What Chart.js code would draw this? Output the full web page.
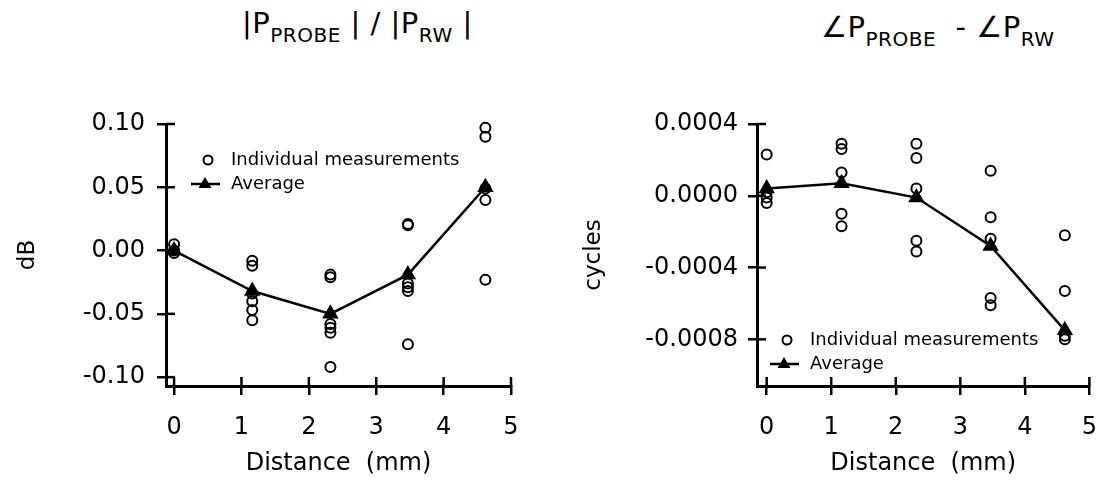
<!DOCTYPE html>
<html>
<head>
<meta charset="utf-8">
<script src="https://cdn.jsdelivr.net/npm/chart.js@4/dist/chart.umd.min.js"></script>
<style>
  html, body { margin: 0; padding: 0; background: #fff; }
  #wrap { position: relative; width: 1115px; height: 485px; overflow: hidden; }
  .box { position: absolute; top: 0; height: 485px; }
  .ttl { position: absolute; font-family: 'DejaVu Sans', sans-serif; font-size: 29px; line-height: 1; color: #000; white-space: pre; letter-spacing: 0.5px; }
  .ttl sub { font-size: 20px; vertical-align: -9px; line-height: 0; }
</style>
</head>
<body>
<div id="wrap">
  <div class="ttl" style="left:242px; top:9px;">|P<sub>PROBE</sub> | / |P<sub>RW</sub> |</div>
  <div class="ttl" style="left:821px; top:13px;">∠P<sub>PROBE</sub>  - ∠P<sub>RW</sub></div>
  <div class="box" style="left:0; width:557px;"><canvas id="chartMag"></canvas></div>
  <div class="box" style="left:557px; width:558px;"><canvas id="chartPhase"></canvas></div>
</div>
<script>
// distances (mm)
var distances = [0, 1.16, 2.32, 3.47, 4.62];
var xTicks = [0, 1, 2, 3, 4, 5];

// |P_PROBE| / |P_RW| (dB)
var magIndividual = [
  [0.005, 0.0, -0.002],
  [-0.008, -0.012, -0.034, -0.040, -0.047, -0.055],
  [-0.019, -0.021, -0.058, -0.061, -0.065, -0.092],
  [0.020, 0.021, -0.026, -0.029, -0.032, -0.074],
  [0.097, 0.090, 0.049, 0.040, -0.023]
];
var magAverage = [0.0, -0.032, -0.050, -0.019, 0.050];
var magTicks = [-0.10, -0.05, 0.0, 0.05, 0.10];

// angle P_PROBE - angle P_RW (cycles)
var phaseIndividual = [
  [0.00023, 0.00002, -0.00001, -0.00004],
  [0.00029, 0.00026, 0.00013, -0.00010, -0.00017],
  [0.00029, 0.00021, 0.00004, -0.00025, -0.00031],
  [0.00014, -0.00012, -0.00024, -0.00057, -0.00061],
  [-0.00022, -0.00053, -0.00078, -0.00080]
];
var phaseAverage = [0.00004, 0.00007, -0.00001, -0.00028, -0.00075];
var phaseTicks = [-0.0008, -0.0004, 0.0, 0.0004];

var legendLabels = ['Individual measurements', 'Average'];

Chart.defaults.font.family = "'DejaVu Sans', sans-serif";
Chart.defaults.color = '#000';

// tick marks crossing the axes + legend inside the plot
var axisExtras = {
  id: 'axisExtras',
  afterDraw: function (chart, args, opts) {
    var ctx = chart.ctx;
    var a = chart.chartArea;
    ctx.save();
    ctx.strokeStyle = '#000';
    ctx.lineWidth = 2.5;
    chart.scales.y.ticks.forEach(function (t) {
      var py = chart.scales.y.getPixelForValue(t.value);
      ctx.beginPath();
      ctx.moveTo(a.left, py);
      ctx.lineTo(a.left + 9, py);
      ctx.stroke();
    });
    chart.scales.x.ticks.forEach(function (t) {
      var px = chart.scales.x.getPixelForValue(t.value);
      ctx.beginPath();
      ctx.moveTo(px, a.bottom);
      ctx.lineTo(px, a.bottom - 9);
      ctx.stroke();
    });

    // legend
    var lx = a.left + opts.x;
    var ly = opts.fromBottom ? a.bottom - opts.y : a.top + opts.y;
    ctx.lineWidth = 2;
    ctx.beginPath();
    ctx.arc(lx, ly, 4.5, 0, Math.PI * 2);
    ctx.stroke();
    ctx.fillStyle = '#000';
    ctx.font = "18px 'DejaVu Sans', sans-serif";
    ctx.textBaseline = 'middle';
    ctx.fillText(legendLabels[0], lx + 23, ly);
    var ly2 = ly + 24;
    ctx.lineWidth = 2.5;
    ctx.beginPath();
    ctx.moveTo(lx - 17, ly2);
    ctx.lineTo(lx + 12, ly2);
    ctx.stroke();
    ctx.beginPath();
    ctx.moveTo(lx - 3, ly2 - 7);
    ctx.lineTo(lx + 3.5, ly2 + 4);
    ctx.lineTo(lx - 9.5, ly2 + 4);
    ctx.closePath();
    ctx.fill();
    ctx.fillText(legendLabels[1], lx + 23, ly2);
    ctx.restore();
  }
};

function buildPoints(xs, groups) {
  var pts = [];
  for (var i = 0; i < xs.length; i++) {
    for (var j = 0; j < groups[i].length; j++) {
      pts.push({ x: xs[i], y: groups[i][j] });
    }
  }
  return pts;
}

function buildLine(xs, ys) {
  var pts = [];
  for (var i = 0; i < xs.length; i++) {
    pts.push({ x: xs[i], y: ys[i] });
  }
  return pts;
}

function makeChart(id, o) {
  var ctx = document.getElementById(id);
  return new Chart(ctx, {
    type: 'scatter',
    data: {
      datasets: [
        {
          label: legendLabels[1],
          data: buildLine(distances, o.average),
          showLine: true,
          borderColor: '#000',
          backgroundColor: '#000',
          borderWidth: 2.5,
          pointStyle: 'triangle',
          pointRadius: 7,
          pointHoverRadius: 7,
          tension: 0,
          clip: false,
        },
        {
          label: legendLabels[0],
          data: buildPoints(distances, o.individual),
          borderColor: '#000',
          backgroundColor: 'rgba(0,0,0,0)',
          borderWidth: 2,
          pointStyle: 'circle',
          pointRadius: 5,
          pointHoverRadius: 5,
          clip: false,
        },
      ],
    },
    options: {
      responsive: true,
      maintainAspectRatio: false,
      animation: false,
      layout: { padding: { top: 124, right: o.padRight, bottom: 0, left: 0 } },
      plugins: {
        legend: { display: false },
        tooltip: { enabled: false },
        axisExtras: o.legend,
      },
      scales: {
        x: {
          type: 'linear',
          min: o.xMin,
          max: 5,
          afterBuildTicks: function (scale) {
            scale.ticks = xTicks.map(function (v) { return { value: v }; });
          },
          afterFit: function (scale) { scale.height = 99; },
          grid: { display: true, drawOnChartArea: false, color: '#000', lineWidth: 2.5, tickLength: 9 },
          border: { display: true, color: '#000', width: 3 },
          ticks: { font: { size: 24 }, padding: 18, maxRotation: 0, callback: function (v) { return String(v); } },
          title: { display: true, text: 'Distance  (mm)', font: { size: 24 }, padding: { top: 0, bottom: 7 } },
        },
        y: {
          type: 'linear',
          min: o.yMin,
          max: o.yMax,
          afterBuildTicks: function (scale) {
            scale.ticks = o.yTicks.map(function (v) { return { value: v }; });
          },
          afterFit: function (scale) { scale.width = o.yWidth; },
          grid: { display: true, drawOnChartArea: false, color: '#000', lineWidth: 2.5, tickLength: 9 },
          border: { display: true, color: '#000', width: 3 },
          ticks: {
            font: { size: 24 },
            padding: o.tickPad,
            callback: function (v) { return Number(v).toFixed(o.decimals); },
          },
          title: { display: true, text: o.yTitle, font: { size: 23 }, padding: { top: o.titlePad, bottom: 0 } },
        },
      },
    },
    plugins: [axisExtras],
  });
}

makeChart('chartMag', {
  individual: magIndividual,
  average: magAverage,
  yTicks: magTicks,
  yMin: -0.107,
  yMax: 0.10,
  xMin: -0.12,
  decimals: 2,
  yTitle: 'dB',
  yWidth: 166,
  padRight: 46,
  tickPad: 12,
  titlePad: 14,
  legend: { x: 42, y: 36, fromBottom: false },
});

makeChart('chartPhase', {
  individual: phaseIndividual,
  average: phaseAverage,
  yTicks: phaseTicks,
  yMin: -0.00106,
  yMax: 0.0004,
  xMin: -0.15,
  decimals: 4,
  yTitle: 'cycles',
  yWidth: 200,
  padRight: 11,
  tickPad: 10,
  titlePad: 23,
  legend: { x: 30, y: 46, fromBottom: true },
});
</script>
</body>
</html>
